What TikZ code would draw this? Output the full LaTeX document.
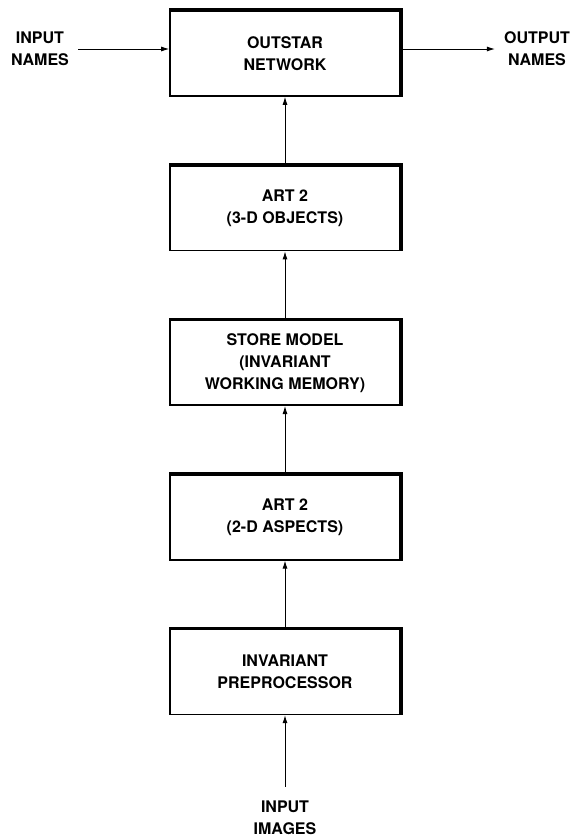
\documentclass[tikz,border=0pt]{standalone}
\usepackage{fontspec}
\setmainfont{TeX Gyre Heros}
\usetikzlibrary{positioning,arrows.meta}
\tikzset{blk/.style={draw,line width=1.6pt,minimum width=230pt,minimum height=85pt,align=center,font=\bfseries\fontsize{16}{22}\selectfont}}
\tikzset{lbl/.style={align=center,inner xsep=9pt,inner ysep=0pt,font=\bfseries\fontsize{16}{22}\selectfont}}

\begin{document}
\begin{tikzpicture}[x=1pt,y=-1pt,>={Latex[length=8pt,width=5pt]}]
  \useasboundingbox (0,0) rectangle (573,839);
  \node[blk] (n1) at (285,53.5) {OUTSTAR\\NETWORK};
  \node[blk,below=68pt of n1] (n2) {ART 2\\(3-D OBJECTS)};
  \node[blk,below=68pt of n2] (n3) {STORE MODEL\\(INVARIANT\\WORKING MEMORY)};
  \node[blk,below=68pt of n3] (n4) {ART 2\\(2-D ASPECTS)};
  \node[blk,below=68pt of n4] (n5) {INVARIANT\\PREPROCESSOR};

  % heavy top and right edges
  \foreach \n in {n1,n2,n3,n4,n5}
    \draw[line width=3.5pt] (\n.north west) -- (\n.north east) -- (\n.south east);

  \node[lbl] (in) at (40,49) {INPUT\\NAMES};
  \node[lbl] (out) at (537,49) {OUTPUT\\NAMES};
  \node[lbl,inner ysep=14pt] (im) at (285,818) {INPUT\\IMAGES};

  \draw[->,line width=0.9pt] (in.east) -- (in.east -| n1.west);
  \draw[->,line width=0.9pt] (in.east -| n1.east) -- (out.west);
  \draw[->,line width=0.9pt] (im) -- (n5);
  \draw[->,line width=0.9pt] (n5) -- (n4);
  \draw[->,line width=0.9pt] (n4) -- (n3);
  \draw[->,line width=0.9pt] (n3) -- (n2);
  \draw[->,line width=0.9pt] (n2) -- (n1);
\end{tikzpicture}
\end{document}
